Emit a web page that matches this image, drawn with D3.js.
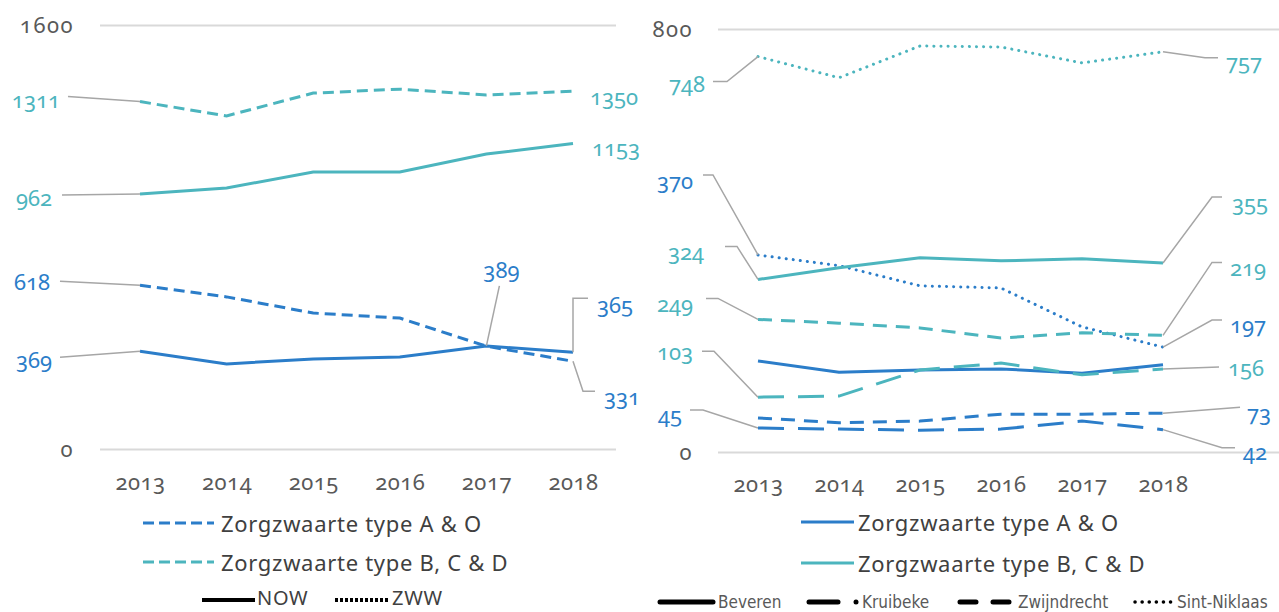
<!DOCTYPE html>
<html>
<head>
<meta charset="utf-8">
<script src="https://cdn.jsdelivr.net/npm/d3@7"></script>
<style>
    body { margin: 0; background: #fff; }
    svg text { font-family: "Noto Sans", "Open Sans", sans-serif; font-variant-numeric: oldstyle-nums; }
</style>
</head>
<body>
<script>
var years = ["2013", "2014", "2015", "2016", "2017", "2018"];
var leftTicks = [0, 1600];
var rightTicks = [0, 800];

// left panel: NOW vs ZWW
var nowAO = [369, 321, 340, 347, 389, 365];
var nowBCD = [962, 985, 1045, 1045, 1113, 1153];
var zwwAO = [618, 574, 513, 494, 388, 331];
var zwwBCD = [1311, 1257, 1343, 1358, 1336, 1350];

// right panel: per gemeente
var beverenAO = [171, 150, 154, 156, 148, 164];
var beverenBCD = [324, 346, 365, 359, 363, 355];
var kruibekeAO = [45, 43, 41, 43, 58, 42];
var kruibekeBCD = [103, 105, 154, 167, 145, 156];
var zwijndrechtAO = [64, 55, 58, 71, 71, 73];
var zwijndrechtBCD = [249, 242, 233, 214, 224, 219];
var sintNiklaasAO = [370, 350, 312, 308, 235, 197];
var sintNiklaasBCD = [748, 708, 768, 766, 736, 757];

var blue = "#2b7dc9";
var teal = "#4cb5be";
var leaderCol = "#a6a6a6";

var width = 1279, height = 612;

var svg = d3.select("body").append("svg")
    .attr("width", width)
    .attr("height", height);

// ---------- left chart ----------
var xL = d3.scalePoint().domain(years).range([140, 573]);
var yL = d3.scaleLinear().domain([0, 1600]).range([449, 25]);

var left = svg.append("g");

var yAxisL = left.append("g")
    .attr("transform", "translate(100,0)")
    .call(d3.axisLeft(yL).tickValues(leftTicks).tickSize(-516).tickPadding(26).tickFormat(d3.format("d")));
styleYAxis(yAxisL);

var xAxisL = left.append("g")
    .attr("transform", "translate(0,470)")
    .call(d3.axisBottom(xL).tickSize(0).tickPadding(4));
styleXAxis(xAxisL);

var lineL = d3.line()
    .x(function (d, i) { return xL(years[i]); })
    .y(function (d) { return yL(d); });

var leftSeries = [
    { values: zwwBCD, color: teal, dash: "11,6" },
    { values: nowBCD, color: teal, dash: null },
    { values: zwwAO, color: blue, dash: "11,6" },
    { values: nowAO, color: blue, dash: null }
];

left.selectAll(".line")
    .data(leftSeries)
    .enter().append("path")
    .attr("class", "line")
    .attr("d", function (d) { return lineL(d.values); })
    .attr("fill", "none")
    .attr("stroke", function (d) { return d.color; })
    .attr("stroke-width", 3)
    .attr("stroke-dasharray", function (d) { return d.dash; });

// data labels: [series, index, colour, leader offsets, text offset, anchor]
var leftLabels = [
    [zwwBCD, 0, teal, [[0, 0], [-72, -5]], [-80, -1], "end"],
    [nowBCD, 0, teal, [[0, 0], [-78, 1]], [-88, 4], "end"],
    [zwwAO, 0, blue, [[0, 0], [-80, -4]], [-90, -3], "end"],
    [nowAO, 0, blue, [[0, 0], [-80, 6]], [-88, 9], "end"],
    [zwwBCD, 5, teal, null, [17, 6], "start"],
    [nowBCD, 5, teal, null, [19, 5], "start"],
    [nowAO, 4, blue, [[0, 0], [13, -60]], [15, -76], "middle"],
    [nowAO, 5, blue, [[0, 0], [0, -54], [15, -54]], [24, -47], "start"],
    [zwwAO, 5, blue, [[0, 0], [10, 30], [22, 30]], [31, 36], "start"]
];
drawLabels(left, leftLabels, xL, yL);

// left legend
left.append("line").attr("x1", 143).attr("x2", 214).attr("y1", 523).attr("y2", 523)
    .attr("stroke", blue).attr("stroke-width", 3).attr("stroke-dasharray", "11,5");
legendText(left, 221, 524, "Zorgzwaarte type A & O", 22);
left.append("line").attr("x1", 143).attr("x2", 214).attr("y1", 562).attr("y2", 562)
    .attr("stroke", teal).attr("stroke-width", 3).attr("stroke-dasharray", "11,5");
legendText(left, 221, 563, "Zorgzwaarte type B, C & D", 22);
left.append("line").attr("x1", 202).attr("x2", 255).attr("y1", 600).attr("y2", 600)
    .attr("stroke", "#000").attr("stroke-width", 4);
legendText(left, 257, 598, "NOW", 20);
left.append("line").attr("x1", 335).attr("x2", 390).attr("y1", 600).attr("y2", 600)
    .attr("stroke", "#000").attr("stroke-width", 4).attr("stroke-dasharray", "3,2");
legendText(left, 392, 598, "ZWW", 20);

// ---------- right chart (broken axis) ----------
var xR = d3.scalePoint().domain(years).range([758, 1163]);
var yR = d3.scaleLinear().domain([0, 400, 700, 800]).range([452, 239, 82, 29]);

var right = svg.append("g");

var yAxisR = right.append("g")
    .attr("transform", "translate(718,0)")
    .call(d3.axisLeft(yR).tickValues(rightTicks).tickSize(-561).tickPadding(25).tickFormat(d3.format("d")));
styleYAxis(yAxisR);

var xAxisR = right.append("g")
    .attr("transform", "translate(0,472)")
    .call(d3.axisBottom(xR).tickSize(0).tickPadding(4));
styleXAxis(xAxisR);

var lineR = d3.line()
    .x(function (d, i) { return xR(years[i]); })
    .y(function (d) { return yR(d); });

var styles = {
    Beveren: { dash: null, cap: "butt" },
    Kruibeke: { dash: "26,14", cap: "butt" },
    Zwijndrecht: { dash: "14,9", cap: "butt" },
    SintNiklaas: { dash: "0.1,7", cap: "round" }
};

var rightSeries = [
    { values: sintNiklaasBCD, color: teal, s: styles.SintNiklaas },
    { values: sintNiklaasAO, color: blue, s: styles.SintNiklaas },
    { values: beverenBCD, color: teal, s: styles.Beveren },
    { values: zwijndrechtBCD, color: teal, s: styles.Zwijndrecht },
    { values: beverenAO, color: blue, s: styles.Beveren },
    { values: kruibekeBCD, color: teal, s: styles.Kruibeke },
    { values: zwijndrechtAO, color: blue, s: styles.Zwijndrecht },
    { values: kruibekeAO, color: blue, s: styles.Kruibeke }
];

right.selectAll(".line")
    .data(rightSeries)
    .enter().append("path")
    .attr("class", "line")
    .attr("d", function (d) { return lineR(d.values); })
    .attr("fill", "none")
    .attr("stroke", function (d) { return d.color; })
    .attr("stroke-width", 3)
    .attr("stroke-linecap", function (d) { return d.s.cap; })
    .attr("stroke-dasharray", function (d) { return d.s.dash; });

var rightLabels = [
    [sintNiklaasBCD, 0, teal, [[0, 0], [-31, 25], [-45, 25]], [-53, 28], "end"],
    [sintNiklaasAO, 0, blue, [[0, 0], [-45, -80], [-55, -80]], [-65, -74], "end"],
    [beverenBCD, 0, teal, [[0, 0], [-21, -33], [-33, -33]], [-54, -27], "end"],
    [zwijndrechtBCD, 0, teal, [[0, 0], [-40, -21], [-52, -21]], [-65, -15], "end"],
    [kruibekeBCD, 0, teal, [[0, 0], [-44, -46], [-56, -46]], [-65, -45], "end"],
    [kruibekeAO, 0, blue, [[0, 0], [-55, -18], [-68, -18]], [-76, -13], "end"],
    [sintNiklaasBCD, 5, teal, [[0, 0], [42, 6], [55, 6]], [63, 11], "start"],
    [beverenBCD, 5, teal, [[0, 0], [49, -66], [59, -66]], [69, -60], "start"],
    [zwijndrechtBCD, 5, teal, [[0, 0], [49, -73], [59, -73]], [67, -67], "start"],
    [sintNiklaasAO, 5, blue, [[0, 0], [49, -27], [59, -27]], [67, -22], "start"],
    [kruibekeBCD, 5, teal, [[0, 0], [56, -2]], [65, -1], "start"],
    [zwijndrechtAO, 5, blue, [[0, 0], [77, -6]], [84, 0], "start"],
    [kruibekeAO, 5, blue, [[0, 0], [59, 18], [72, 18]], [80, 23], "start"]
];
drawLabels(right, rightLabels, xR, yR);

// right legend
right.append("line").attr("x1", 801).attr("x2", 854).attr("y1", 522).attr("y2", 522)
    .attr("stroke", blue).attr("stroke-width", 3);
legendText(right, 858, 523, "Zorgzwaarte type A & O", 22);
right.append("line").attr("x1", 801).attr("x2", 854).attr("y1", 563).attr("y2", 563)
    .attr("stroke", teal).attr("stroke-width", 3);
legendText(right, 858, 564, "Zorgzwaarte type B, C & D", 22);

var small = right.append("g").attr("class", "gemeenten");
small.append("line").attr("x1", 660).attr("x2", 713).attr("y1", 602).attr("y2", 602)
    .attr("stroke", "#000").attr("stroke-width", 5).attr("stroke-linecap", "round");
smallText(small, 718, "Beveren");
small.append("line").attr("x1", 809).attr("x2", 838).attr("y1", 602).attr("y2", 602)
    .attr("stroke", "#000").attr("stroke-width", 5).attr("stroke-linecap", "round");
small.append("circle").attr("cx", 856).attr("cy", 602).attr("r", 2.5).attr("fill", "#000");
smallText(small, 862, "Kruibeke");
small.append("line").attr("x1", 960).attr("x2", 1009).attr("y1", 602).attr("y2", 602)
    .attr("stroke", "#000").attr("stroke-width", 5).attr("stroke-linecap", "round")
    .attr("stroke-dasharray", "16,17");
smallText(small, 1018, "Zwijndrecht");
small.append("line").attr("x1", 1135).attr("x2", 1171).attr("y1", 602).attr("y2", 602)
    .attr("stroke", "#000").attr("stroke-width", 3.5).attr("stroke-linecap", "round")
    .attr("stroke-dasharray", "0.1,7");
smallText(small, 1177, "Sint-Niklaas");

// ---------- helpers ----------
function styleYAxis(g) {
    g.select(".domain").remove();
    g.selectAll(".tick line").attr("stroke", "#d9d9d9").attr("stroke-width", 2);
    g.selectAll(".tick text")
        .attr("fill", "#595959")
        .style("font-size", "22px")
        .style("letter-spacing", "1.5px");
}

function styleXAxis(g) {
    g.select(".domain").remove();
    g.selectAll(".tick text")
        .attr("fill", "#595959")
        .style("font-size", "22px")
        .style("letter-spacing", "0.5px");
}

function drawLabels(g, labels, x, y) {
    labels.forEach(function (l) {
        var px = x(years[l[1]]);
        var py = y(l[0][l[1]]);
        if (l[3]) {
            g.append("path")
                .attr("d", d3.line()(l[3].map(function (p) { return [px + p[0], py + p[1]]; })))
                .attr("fill", "none")
                .attr("stroke", leaderCol)
                .attr("stroke-width", 1.5);
        }
        g.append("text")
            .attr("x", px + l[4][0])
            .attr("y", py + l[4][1])
            .attr("dy", "0.35em")
            .attr("text-anchor", l[5])
            .attr("fill", l[2])
            .style("font-size", "22px")
            .text(l[0][l[1]]);
    });
}

function legendText(g, x, y, txt, size) {
    g.append("text")
        .attr("x", x)
        .attr("y", y)
        .attr("dy", "0.35em")
        .attr("fill", "#404040")
        .style("font-size", size + "px")
        .style("letter-spacing", "0.7px")
        .text(txt);
}

function smallText(g, x, txt) {
    g.append("text")
        .attr("x", x)
        .attr("y", 602)
        .attr("dy", "0.35em")
        .attr("fill", "#595959")
        .style("font-family", "'Liberation Sans Narrow', 'DejaVu Sans Condensed', sans-serif")
        .style("font-stretch", "condensed")
        .style("font-size", "17px")
        .text(txt);
}
</script>
</body>
</html>
